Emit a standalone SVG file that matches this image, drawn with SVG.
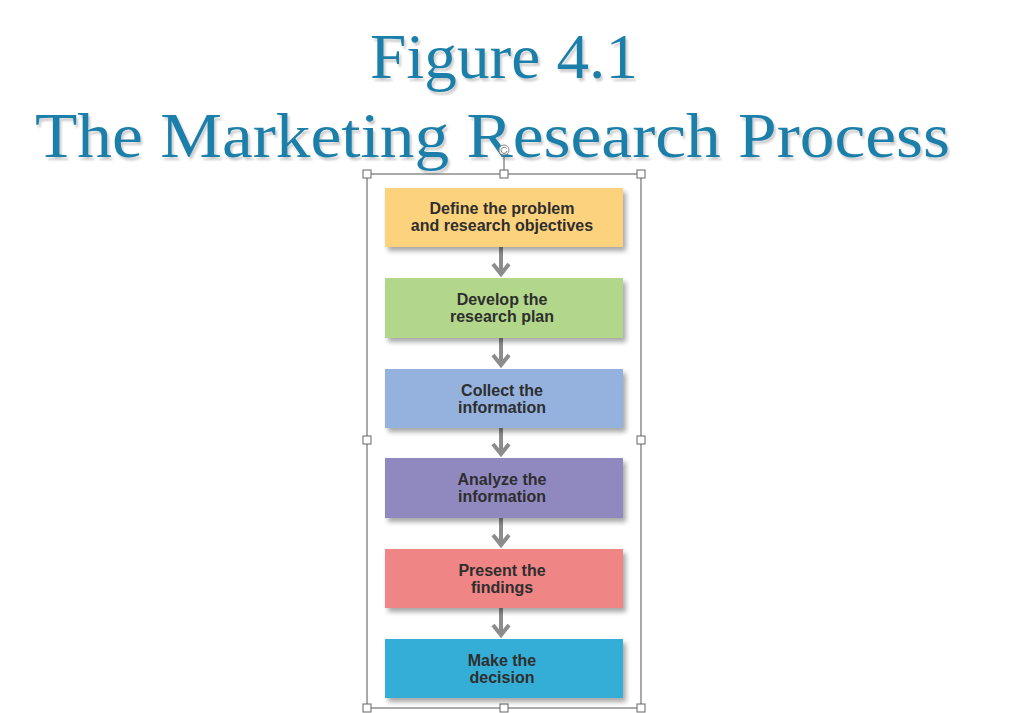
<svg xmlns="http://www.w3.org/2000/svg" width="1024" height="713" viewBox="0 0 1024 713">
<style>
.title{font-family:"Liberation Serif","DejaVu Serif",serif;fill:#1f7fa9;font-size:64px}
.lbl{font-family:"Liberation Sans",Arial,sans-serif;font-weight:bold;font-size:16px;fill:#2e2e2e;text-anchor:middle}
.box{filter:url(#sh)}
.h{fill:#fff;stroke:#666;stroke-width:1}
.arr{stroke:#8c8c8c;stroke-width:4;fill:none}
.head{stroke:#8c8c8c;stroke-width:4;fill:none;stroke-linecap:butt}
</style>
<defs>
<filter id="sh" x="-10%" y="-20%" width="130%" height="160%">
<feGaussianBlur in="SourceAlpha" stdDeviation="2.5"/>
<feOffset dx="3" dy="4" result="b"/>
<feComponentTransfer><feFuncA type="linear" slope="0.35"/></feComponentTransfer>
<feMerge><feMergeNode/><feMergeNode in="SourceGraphic"/></feMerge>
</filter>
<filter id="tsh" x="-5%" y="-20%" width="110%" height="150%">
<feGaussianBlur in="SourceAlpha" stdDeviation="1.2"/>
<feOffset dx="2" dy="3"/>
<feComponentTransfer><feFuncA type="linear" slope="0.2"/></feComponentTransfer>
<feMerge><feMergeNode/><feMergeNode in="SourceGraphic"/></feMerge>
</filter>
</defs>
<rect width="1024" height="713" fill="#fff"/>
<g id="title" filter="url(#tsh)">
<text class="title" x="370" y="78" textLength="268" lengthAdjust="spacingAndGlyphs">Figure 4.1</text>
<text class="title" x="35" y="157" textLength="915" lengthAdjust="spacingAndGlyphs">The Marketing Research Process</text>
</g>
<g id="frame">
<rect x="367" y="174" width="274" height="534" fill="none" stroke="#555" stroke-width="1"/>
<line x1="504" y1="157" x2="504" y2="174" stroke="#555"/>
<circle cx="504" cy="150" r="5" fill="#fff" stroke="#888"/>
<path d="M506.5 148.5 A3 3 0 1 0 507 151" fill="none" stroke="#777" stroke-width="1"/>
<rect class="h" x="363" y="170" width="8" height="8"/>
<rect class="h" x="500" y="170" width="8" height="8"/>
<rect class="h" x="637" y="170" width="8" height="8"/>
<rect class="h" x="363" y="436" width="8" height="8"/>
<rect class="h" x="637" y="436" width="8" height="8"/>
<rect class="h" x="363" y="704" width="8" height="8"/>
<rect class="h" x="500" y="704" width="8" height="8"/>
<rect class="h" x="637" y="704" width="8" height="8"/>
</g>
<g id="connectors">
<line class="arr" x1="501" y1="247" x2="501" y2="274"/><path class="head" d="M493 264 L501 274 L509 264"/>
<line class="arr" x1="501" y1="338" x2="501" y2="365"/><path class="head" d="M493 355 L501 365 L509 355"/>
<line class="arr" x1="501" y1="428" x2="501" y2="454"/><path class="head" d="M493 444 L501 454 L509 444"/>
<line class="arr" x1="501" y1="518" x2="501" y2="545"/><path class="head" d="M493 535 L501 545 L509 535"/>
<line class="arr" x1="501" y1="608" x2="501" y2="635"/><path class="head" d="M493 625 L501 635 L509 625"/>
</g>
<g id="n1"><rect class="box" x="385" y="188" width="238" height="59" fill="#fdd27b"/>
<text class="lbl" x="502" y="214">Define the problem</text><text class="lbl" x="502" y="231">and research objectives</text></g>
<g id="n2"><rect class="box" x="385" y="278" width="238" height="60" fill="#b2d68a"/>
<text class="lbl" x="502" y="305">Develop the</text><text class="lbl" x="502" y="322">research plan</text></g>
<g id="n3"><rect class="box" x="385" y="369" width="238" height="59" fill="#95b2de"/>
<text class="lbl" x="502" y="396">Collect the</text><text class="lbl" x="502" y="413">information</text></g>
<g id="n4"><rect class="box" x="385" y="458" width="238" height="60" fill="#9089c0"/>
<text class="lbl" x="502" y="485">Analyze the</text><text class="lbl" x="502" y="502">information</text></g>
<g id="n5"><rect class="box" x="385" y="549" width="238" height="59" fill="#f08585"/>
<text class="lbl" x="502" y="576">Present the</text><text class="lbl" x="502" y="593">findings</text></g>
<g id="n6"><rect class="box" x="385" y="639" width="238" height="59" fill="#34aed7"/>
<text class="lbl" x="502" y="666">Make the</text><text class="lbl" x="502" y="683">decision</text></g>
</svg>
